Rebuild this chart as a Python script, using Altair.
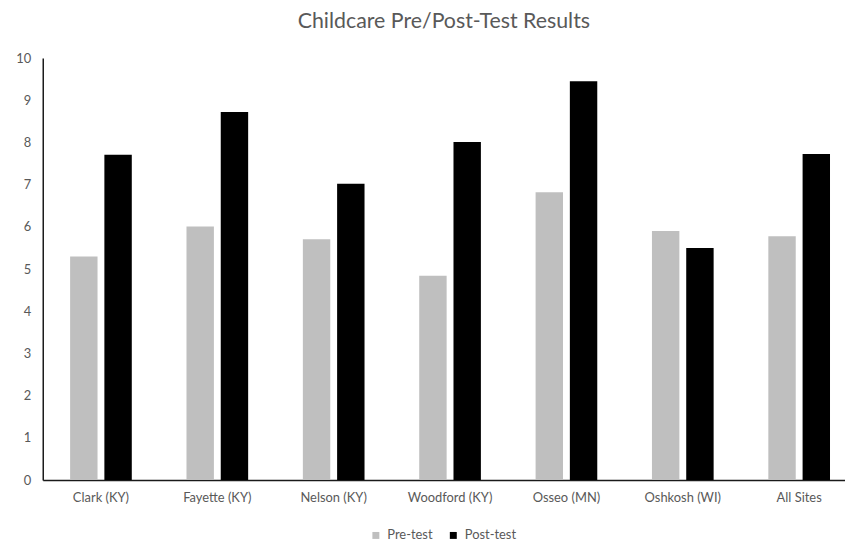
import altair as alt
import pandas as pd

sites = ["Clark (KY)", "Fayette (KY)", "Nelson (KY)", "Woodford (KY)", "Osseo (MN)", "Oshkosh (WI)", "All Sites"]
pre_test = [5.30, 6.01, 5.71, 4.84, 6.82, 5.90, 5.78]
post_test = [7.71, 8.72, 7.02, 8.01, 9.45, 5.50, 7.73]
series = ["Pre-test", "Post-test"]
colors = ["#BFBFBF", "#000000"]

rows = []
for s, a, b in zip(sites, pre_test, post_test):
    rows.append({"site": s, "test": "Pre-test", "score": a})
    rows.append({"site": s, "test": "Post-test", "score": b})
df = pd.DataFrame(rows)

FONT = "Lato"
TXT = "#595959"

chart = alt.Chart(df).mark_bar().encode(
    x=alt.X("site:N", sort=sites, title=None,
            scale=alt.Scale(paddingInner=0.47, paddingOuter=0.182, align=0.646),
            axis=alt.Axis(labelAngle=0, ticks=False, labelPadding=12,
                          labelFont=FONT, labelFontSize=13, labelColor=TXT,
                          domainColor="#1a1a1a", domainWidth=1.5)),
    xOffset=alt.XOffset("test:N", sort=series,
                        scale=alt.Scale(paddingInner=0.2, paddingOuter=0)),
    y=alt.Y("score:Q", title=None,
            scale=alt.Scale(domain=[0, 10]),
            axis=alt.Axis(values=list(range(0, 11)), grid=False, ticks=False,
                          labelPadding=12, labelFont=FONT, labelFontSize=13,
                          labelColor=TXT, domainColor="#1a1a1a", domainWidth=1.5)),
    color=alt.Color("test:N", sort=series,
                    scale=alt.Scale(domain=series, range=colors),
                    legend=alt.Legend(title=None, orient="none", direction="horizontal",
                                      legendX=329, legendY=474, symbolType="square",
                                      symbolSize=49, symbolStrokeWidth=0,
                                      labelFont=FONT, labelFontSize=13, labelColor=TXT,
                                      columnPadding=14, labelOffset=5)),
).properties(
    width=808,
    height=425,
    title=alt.TitleParams("Childcare Pre/Post-Test Results", font=FONT, fontSize=21.5,
                          fontWeight="normal", color=TXT, anchor="middle", offset=20),
    autosize=alt.AutoSizeParams(type="none"),
    padding={"left": 35, "top": 48.5, "right": 0, "bottom": 75},
).configure_view(stroke=None)

chart.save("out.html", embed_options={"renderer": "svg", "actions": False})
